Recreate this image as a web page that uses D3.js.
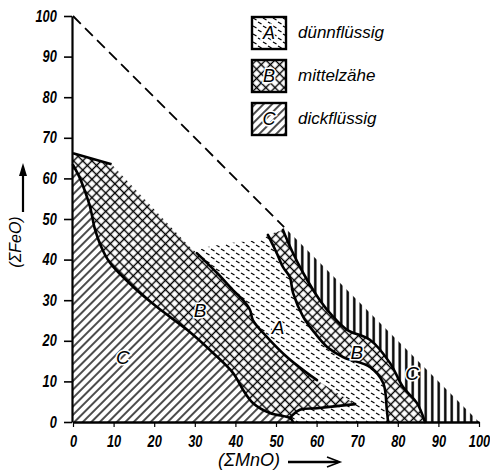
<!DOCTYPE html>
<html>
<head>
<meta charset="utf-8">
<script src="https://cdn.jsdelivr.net/npm/d3@7"></script>
<style>
  body { margin: 0; background: #fff; }
  svg { display: block; }
</style>
</head>
<body>
<div id="chart"></div>
<script>
// tick values, same on both axes
const axisTicks = [0, 10, 20, 30, 40, 50, 60, 70, 80, 90, 100];

// boundary lines, points are [ΣMnO, ΣFeO]
const lineCB = [[0, 63.3], [1.5, 60.5], [2.7, 57.5], [4.2, 53], [5.4, 47.5], [6.8, 43.5], [9.1, 39.2], [14.8, 33.3],
  [20.7, 28.3], [28.1, 22.7], [34.5, 17], [39.4, 12.1], [41.9, 7.9], [44.3, 4.7], [48.5, 2.2], [53.4, 1.0], [54.2, 0]];
const topB = [[0, 66.2], [9.5, 63.5]];
const edgeB = [[9.5, 63.5], [28.8, 43.1], [30.5, 41.6]];
const lineBA = [[30.5, 41.6], [35.5, 36.7], [39.4, 32.5], [41.9, 30.0], [43.6, 27.6], [44.3, 25.1], [47.8, 20.9],
  [52.7, 16.0], [57.6, 12.1], [60.1, 10.3]];
const tipB = [[60.1, 10.3], [69.5, 4.4]];
const tongue = [[69.5, 4.4], [60.1, 3.4], [55.9, 3.0], [53.4, 1.0]];
const topA = [[30.5, 41.6], [32, 42.9], [38.7, 44.1], [46, 44.8], [48, 46.1]];
const lineAB = [[48, 46.1], [50, 42], [51.7, 38.2], [53.4, 35.7], [54.2, 31.8], [56.7, 25.9], [59.5, 22], [62.6, 18.5],
  [66.5, 16.0], [73.2, 13.5], [76.4, 9.6], [77.3, 3.0], [77.6, 0]];
const lineBC = [[51.7, 47.3], [54, 42], [56.7, 36.7], [60.8, 30.0], [64, 26], [67.5, 22.7], [73.2, 20.2], [78.1, 14.5],
  [81.3, 8.6], [84.7, 4.7], [86.7, 0]];
const limitLine = [[0, 100], [52, 48]];

// region letters [letter, ΣMnO, ΣFeO]
const regionLabels = [['C', 12.3, 16], ['B', 31.3, 27.6], ['A', 50.5, 23.4], ['B', 69.9, 17.2], ['C', 83.5, 12]];

// legend
const legendKeys = ['A', 'B', 'C'];
const legendLabels = ['dünnflüssig', 'mittelzähe', 'dickflüssig'];
const legendFills = ['url(#dashA)', 'url(#crossB)', 'url(#hatchC)'];

const width = 490;
const height = 473;

const svg = d3.select('#chart')
  .append('svg')
  .attr('width', width)
  .attr('height', height);

const x = d3.scaleLinear().domain([0, 100]).range([73, 479]);
const y = d3.scaleLinear().domain([0, 100]).range([422, 16]);

// hatch patterns
const defs = svg.append('defs');

const pC = defs.append('pattern').attr('id', 'hatchC')
  .attr('patternUnits', 'userSpaceOnUse').attr('width', 6).attr('height', 6)
  .attr('patternTransform', 'rotate(45)');
pC.append('line').attr('x1', 3).attr('y1', 0).attr('x2', 3).attr('y2', 6)
  .attr('stroke', '#000').attr('stroke-width', 1.4);

const pB = defs.append('pattern').attr('id', 'crossB')
  .attr('patternUnits', 'userSpaceOnUse').attr('width', 6.5).attr('height', 6.5)
  .attr('patternTransform', 'rotate(45)');
pB.append('line').attr('x1', 3.25).attr('y1', 0).attr('x2', 3.25).attr('y2', 6.5)
  .attr('stroke', '#000').attr('stroke-width', 1.4);
pB.append('line').attr('x1', 0).attr('y1', 3.25).attr('x2', 6.5).attr('y2', 3.25)
  .attr('stroke', '#000').attr('stroke-width', 1.4);

const pA = defs.append('pattern').attr('id', 'dashA')
  .attr('patternUnits', 'userSpaceOnUse').attr('width', 10).attr('height', 8);
pA.append('line').attr('x1', 1).attr('y1', 1).attr('x2', 4.5).attr('y2', 3)
  .attr('stroke', '#000').attr('stroke-width', 1.3);
pA.append('line').attr('x1', 6).attr('y1', 5).attr('x2', 9.5).attr('y2', 7)
  .attr('stroke', '#000').attr('stroke-width', 1.3);

const pV = defs.append('pattern').attr('id', 'vertC')
  .attr('patternUnits', 'userSpaceOnUse').attr('width', 6.5).attr('height', 6.5);
pV.append('line').attr('x1', 3.25).attr('y1', 0).attr('x2', 3.25).attr('y2', 6.5)
  .attr('stroke', '#000').attr('stroke-width', 2.4);

// path helpers
const smooth = d3.line().x(d => x(d[0])).y(d => y(d[1])).curve(d3.curveCatmullRom.alpha(0.5));
const straight = d3.line().x(d => x(d[0])).y(d => y(d[1]));
const rev = arr => arr.slice().reverse();

// join several pieces into one closed outline
function outline(parts) {
  return parts.map((p, i) => {
    const s = (p[0] ? smooth : straight)(p[1]);
    return i ? 'L' + s.slice(1) : s;
  }).join('') + 'Z';
}

const regions = [
  { fill: 'url(#hatchC)', d: outline([[0, [[0, 0], [0, 63.3]]], [1, lineCB]]) },
  { fill: 'url(#crossB)', d: outline([[0, [[0, 63.3], ...topB]], [0, edgeB], [1, lineBA], [0, tipB], [1, tongue],
    [1, rev(lineCB.slice(0, -1))]]) },
  { fill: 'url(#dashA)', d: outline([[0, topA], [1, lineAB], [0, [[77.6, 0], [54.2, 0], [53.4, 1.0]]], [1, rev(tongue)],
    [0, rev(tipB)], [1, rev(lineBA)]]) },
  { fill: 'url(#crossB)', d: outline([[1, lineAB], [0, [[77.6, 0], [86.7, 0]]], [1, rev(lineBC)], [0, [[51.7, 47.3], [48, 46.1]]]]) },
  { fill: 'url(#vertC)', d: outline([[1, lineBC], [0, [[86.7, 0], [100, 0], [52, 48], [51.7, 47.3]]]]) }
];

svg.append('g')
  .selectAll('path')
  .data(regions)
  .enter()
  .append('path')
  .attr('d', d => d.d)
  .attr('fill', d => d.fill)
  .attr('stroke', 'none');

// thick boundary lines
svg.append('g')
  .selectAll('path')
  .data([lineCB, lineBA, tongue, lineAB, lineBC])
  .enter()
  .append('path')
  .attr('d', smooth)
  .attr('fill', 'none')
  .attr('stroke', '#000')
  .attr('stroke-width', 2.6)
  .attr('stroke-linecap', 'round');

svg.append('path')
  .attr('d', straight(topB))
  .attr('fill', 'none')
  .attr('stroke', '#000')
  .attr('stroke-width', 2.6);

// dashed limit line
svg.append('path')
  .attr('d', straight(limitLine))
  .attr('fill', 'none')
  .attr('stroke', '#000')
  .attr('stroke-width', 1.8)
  .attr('stroke-dasharray', '11,6');

// axes, labels squeezed to look like the narrow italic print
const tickFont = g => g.selectAll('text')
  .attr('font-family', '"Liberation Sans", sans-serif')
  .attr('font-style', 'italic')
  .attr('font-weight', 'bold')
  .attr('font-size', '16px')
  .attr('fill', '#000')
  .attr('transform', 'scale(0.8,1)');

svg.append('g')
  .attr('transform', 'translate(72,0)')
  .call(d3.axisLeft(y).tickValues(axisTicks).tickSize(8).tickPadding(11).tickSizeOuter(0))
  .call(g => g.select('.domain').attr('stroke-width', 2.2))
  .call(g => g.selectAll('.tick line').attr('stroke-width', 1.6))
  .call(tickFont);

svg.append('g')
  .attr('transform', 'translate(0,422)')
  .call(d3.axisBottom(x).tickValues(axisTicks).tickSize(5).tickPadding(9).tickSizeOuter(0))
  .call(g => g.select('.domain').attr('stroke-width', 2.4))
  .call(g => g.selectAll('.tick line').attr('stroke-width', 1.2))
  .call(tickFont);

// region letters
svg.append('g')
  .selectAll('text')
  .data(regionLabels)
  .enter()
  .append('text')
  .attr('x', d => x(d[1]))
  .attr('y', d => y(d[2]))
  .attr('dy', '0.35em')
  .attr('text-anchor', 'middle')
  .attr('font-family', '"Liberation Sans", sans-serif')
  .attr('font-style', 'italic')
  .attr('font-size', '19px')
  .attr('fill', '#000')
  .attr('stroke', '#fff')
  .attr('stroke-width', 3)
  .attr('paint-order', 'stroke')
  .text(d => d[0]);

// axis titles with arrows
svg.append('text')
  .attr('transform', 'translate(21,242) rotate(-90)')
  .attr('text-anchor', 'middle')
  .attr('font-family', '"Liberation Sans", sans-serif')
  .attr('font-style', 'italic')
  .attr('font-size', '16px')
  .attr('fill', '#000')
  .text('(ΣFeO)');

svg.append('line')
  .attr('x1', 23).attr('y1', 212).attr('x2', 23).attr('y2', 172)
  .attr('stroke', '#000').attr('stroke-width', 2.2);
svg.append('path')
  .attr('d', 'M23,163 L19,176 L27,176 Z')
  .attr('fill', '#000');

svg.append('text')
  .attr('x', 249)
  .attr('y', 466)
  .attr('text-anchor', 'middle')
  .attr('font-family', '"Liberation Sans", sans-serif')
  .attr('font-style', 'italic')
  .attr('font-size', '18px')
  .attr('fill', '#000')
  .text('(ΣMnO)');

svg.append('line')
  .attr('x1', 288).attr('y1', 462).attr('x2', 338).attr('y2', 462)
  .attr('stroke', '#000').attr('stroke-width', 2.6);
svg.append('path')
  .attr('d', 'M327,457 L340,462 L327,467')
  .attr('fill', 'none').attr('stroke', '#000').attr('stroke-width', 1.6);

// legend
const legend = svg.append('g')
  .selectAll('g')
  .data(legendKeys)
  .enter()
  .append('g')
  .attr('transform', (d, i) => `translate(252,${17 + i * 43})`);

legend.append('rect')
  .attr('width', 34)
  .attr('height', 32)
  .attr('fill', (d, i) => legendFills[i])
  .attr('stroke', '#000')
  .attr('stroke-width', 2.4);

legend.append('text')
  .attr('x', 17)
  .attr('y', 16)
  .attr('dy', '0.35em')
  .attr('text-anchor', 'middle')
  .attr('font-family', '"Liberation Sans", sans-serif')
  .attr('font-style', 'italic')
  .attr('font-size', '18px')
  .attr('fill', '#000')
  .attr('stroke', '#fff')
  .attr('stroke-width', 3)
  .attr('paint-order', 'stroke')
  .text(d => d);

legend.append('text')
  .attr('x', 46)
  .attr('y', 21)
  .attr('font-family', '"Liberation Sans", sans-serif')
  .attr('font-style', 'italic')
  .attr('font-size', '17px')
  .attr('fill', '#000')
  .text((d, i) => legendLabels[i]);
</script>
</body>
</html>
